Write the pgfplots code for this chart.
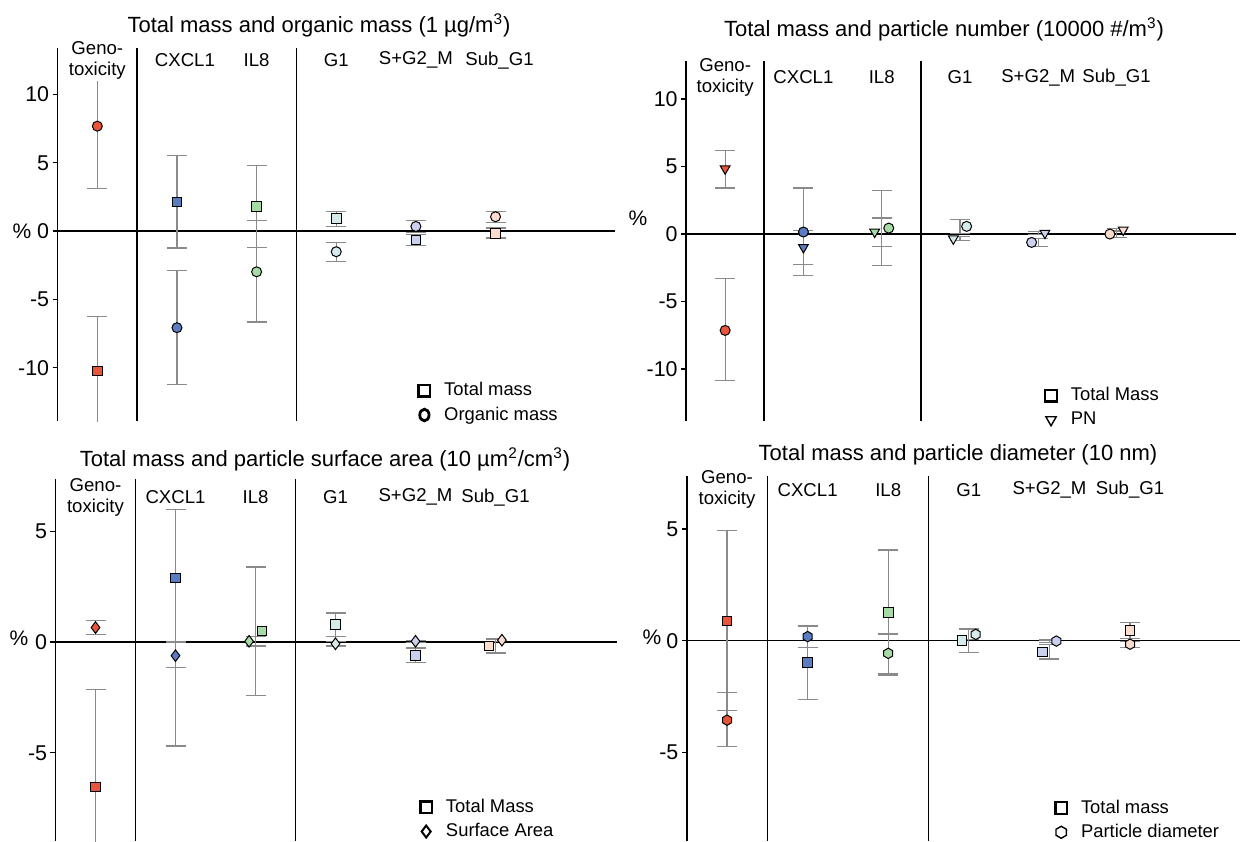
\documentclass[border=0pt]{standalone}
\usepackage{fontspec}
\setmainfont{Liberation Sans}
\usepackage{pgfplots}
\pgfplotsset{compat=1.18}
\usepackage{pgfplotstable}

\definecolor{cA}{HTML}{E8553A}
\definecolor{cB}{HTML}{5B7CC0}
\definecolor{cC}{HTML}{A6DBA6}
\definecolor{cD}{HTML}{D5EBEB}
\definecolor{cE}{HTML}{C9D1EF}
\definecolor{cF}{HTML}{FCDCCE}
\definecolor{errg}{HTML}{8A8A8A}

\pgfdeclareplotmark{hexagon}{%
  \pgfpathmoveto{\pgfqpointpolar{30}{\pgfplotmarksize}}%
  \pgfpathlineto{\pgfqpointpolar{90}{\pgfplotmarksize}}%
  \pgfpathlineto{\pgfqpointpolar{150}{\pgfplotmarksize}}%
  \pgfpathlineto{\pgfqpointpolar{210}{\pgfplotmarksize}}%
  \pgfpathlineto{\pgfqpointpolar{270}{\pgfplotmarksize}}%
  \pgfpathlineto{\pgfqpointpolar{330}{\pgfplotmarksize}}%
  \pgfpathclose
  \pgfusepathqfillstroke}

% ---------- data: x = error-bar position, mx = marker position ----------
\pgfplotstableread{
x mx y ep em c
0 0 -10.24 4.00 4.00 a
1 1 2.12 3.42 3.36 b
2 2 1.78 3.02 3.00 c
3 3 0.93 0.53 0.59 d
4 4 -0.66 0.40 0.39 e
5 5 -0.17 0.39 0.34 f
}\PaT
\pgfplotstableread{
x mx y ep em c
0 0 7.68 4.60 4.58 a
1 1 -7.07 4.19 4.13 b
2 2 -2.98 3.74 3.68 c
3 3 -1.51 0.68 0.71 d
4 4 0.34 0.44 0.44 e
5 5 1.05 0.41 0.42 f
}\PaO

\pgfplotstableread{
x mx y ep em c
0 0 -7.14 3.83 3.70 a
1 1 0.15 3.26 3.21 b
2 2.09 0.44 2.79 2.79 c
3 3.085 0.57 0.49 0.50 d
4 3.915 -0.62 0.30 0.29 e
5 4.915 0.00 0.25 0.25 f
}\PbT
\pgfplotstableread{
x mx y ep em c
0 0 4.84 1.36 1.43 a
1 1 -0.99 1.28 1.28 b
2 1.91 0.15 1.04 1.09 c
3 2.915 -0.35 0.14 0.14 d
4 4.085 0.07 0.10 0.10 e
5 5.085 0.30 0.10 0.10 f
}\PbP

\pgfplotstableread{
x mx y ep em c
0 0 -6.54 4.39 4.40 a
1 1 2.89 3.08 4.05 b
2 2.08 0.50 2.88 2.91 c
3 3 0.78 0.53 0.55 d
4 4 -0.60 0.33 0.33 e
5 4.92 -0.18 0.28 0.32 f
}\PcT
\pgfplotstableread{
x mx y ep em c
0 0 0.65 0.31 0.32 a
1 1 -0.62 0.62 4.07 b
2 1.92 0.03 0.20 0.21 c
3 3 -0.08 0.10 0.10 d
4 4 0.03 0.05 0.05 e
5 5.08 0.08 0.05 0.05 f
}\PcD

\pgfplotstableread{
x mx y ep em c
0 0 0.88 4.05 4.00 a
1 1 -0.99 1.64 1.64 b
2 2 1.25 2.81 2.74 c
3 2.915 0.00 0.55 0.54 d
4 3.915 -0.50 0.32 0.32 e
5 5 0.45 0.35 0.35 f
}\PdT
\pgfplotstableread{
x mx y ep em c
0 0 -3.56 1.25 1.19 a
1 1 0.18 0.49 0.49 b
2 2 -0.57 0.87 0.97 c
3 3.085 0.28 0.22 0.22 d
4 4.085 -0.02 0.05 0.05 e
5 5 -0.16 0.13 0.13 f
}\PdH

\tikzset{catlab/.style={font=\fontsize{9.3}{10.5}\selectfont, align=center, inner sep=1pt}}

\pgfplotsset{
  panel/.style={
    scale only axis, anchor=south west,
    xmin=-0.5,
    axis x line=none, axis y line=left,
    y axis line style={-, line width=0.8pt, black},
    every outer y axis line/.append style={-},
    every inner y axis line/.append style={-},
    ytick style={line width=0.6pt, black},
    tick align=outside, major tick length=2.5pt,
    yticklabel style={font=\fontsize{10.7}{12}\selectfont, inner sep=1.5pt},
    /pgf/number format/assume math mode=true,
    clip mode=individual,
    legend cell align=left,
    legend style={draw=none, fill=none, anchor=north west,
      font=\fontsize{9.2}{10.5}\selectfont, inner sep=0pt, row sep=0pt, column sep=5pt},
  },
  ebar/.style={draw=none, mark=none, forget plot,
    error bars/.cd, y dir=both, y explicit,
    error bar style={draw=errg, line width=0.6pt},
    error mark options={rotate=90, draw=errg, mark size=5pt, line width=0.6pt}},
  mk/.style={scatter, only marks, forget plot, mark=#1, mark size=2.5pt,
    point meta=explicit symbolic,
    mark options={draw=black, line width=0.5pt},
    scatter/classes={
      a={fill=cA, draw=black}, b={fill=cB, draw=black}, c={fill=cC, draw=black},
      d={fill=cD, draw=black}, e={fill=cE, draw=black}, f={fill=cF, draw=black}}},
  legsq/.style={only marks, mark=square, mark size=2.9pt, mark options={black, line width=1.2pt}},
}

\begin{document}
\begin{tikzpicture}
\useasboundingbox (0,0) rectangle (620pt,-420.5pt);

% titles
\node[font=\fontsize{11}{12}\selectfont] at (159.5pt,-12.5pt) {Total mass and organic mass (1 µg/m\textsuperscript{3})};
\node[font=\fontsize{11}{12}\selectfont] at (472pt,-14.5pt) {Total mass and particle number (10000 \#/m\textsuperscript{3})};
\node[font=\fontsize{11}{12}\selectfont] at (162.5pt,-229.5pt) {Total mass and particle surface area (10 µm\textsuperscript{2}/cm\textsuperscript{3})};
\node[font=\fontsize{11}{12}\selectfont] at (479pt,-227.5pt) {Total mass and particle diameter (10 nm)};

% % labels
\node[font=\fontsize{10.5}{12}\selectfont] at (11pt,-115.5pt) {\%};
\node[font=\fontsize{10.5}{12}\selectfont] at (319pt,-109pt) {\%};
\node[font=\fontsize{10.5}{12}\selectfont] at (9.5pt,-319pt) {\%};
\node[font=\fontsize{10.5}{12}\selectfont] at (326pt,-318.5pt) {\%};

% ---------------- Panel 1 ----------------
\begin{axis}[panel, at={(28.75pt,-210.5pt)}, width=278.75pt, height=186.5pt,
  xmax=6.5, ymin=-13.9, ymax=13.4, ytick={-10,-5,0,5,10},
  legend style={at={(0.647,0.115)}}]
\draw[line width=0.8pt] (axis cs:0.5,-13.9) -- (axis cs:0.5,13.4);
\draw[line width=0.8pt] (axis cs:2.5,-13.9) -- (axis cs:2.5,13.4);
\draw[line width=0.8pt] (axis cs:-0.5,0) -- (axis cs:6.5,0);
\addplot[ebar] table[x=x,y=y,y error plus=ep,y error minus=em]{\PaT};
\addplot[ebar] table[x=x,y=y,y error plus=ep,y error minus=em]{\PaO};
\addplot[mk=square*, mark size=2.4pt] table[x=mx,y=y,meta=c]{\PaT};
\addplot[mk=*] table[x=mx,y=y,meta=c]{\PaO};
\node[catlab, fill=white] at (axis cs:0,12.5) {Geno-\\toxicity};
\node[catlab] at (axis cs:1.1,12.5) {CXCL1};
\node[catlab] at (axis cs:2,12.5) {IL8};
\node[catlab] at (axis cs:3,12.5) {G1};
\node[catlab] at (axis cs:4,12.5) {S+G2\_M};
\node[catlab] at (axis cs:5.05,12.5) {Sub\_G1};
\addlegendimage{legsq}
\addlegendentry{Total mass}
\addlegendimage{only marks, mark=o, mark size=2.9pt, mark options={black, line width=1.4pt, xscale=0.8}}
\addlegendentry{Organic mass}
\end{axis}

% ---------------- Panel 2 ----------------
\begin{axis}[panel, at={(343pt,-210.5pt)}, width=274.75pt, height=180pt,
  xmax=6.52, ymin=-13.85, ymax=12.82, ytick={-10,-5,0,5,10},
  legend style={at={(0.653,0.105)}}]
\draw[line width=0.8pt] (axis cs:0.5,-13.85) -- (axis cs:0.5,12.82);
\draw[line width=0.8pt] (axis cs:2.5,-13.85) -- (axis cs:2.5,12.82);
\draw[line width=0.8pt] (axis cs:-0.5,0) -- (axis cs:6.52,0);
\addplot[ebar] table[x=x,y=y,y error plus=ep,y error minus=em]{\PbT};
\addplot[ebar] table[x=x,y=y,y error plus=ep,y error minus=em]{\PbP};
\addplot[mk=*] table[x=mx,y=y,meta=c]{\PbT};
\addplot[mk=triangle*, mark size=2.8pt, mark options={rotate=180, draw=black, line width=0.5pt}] table[x=mx,y=y,meta=c]{\PbP};
\node[catlab] at (axis cs:0,11.6) {Geno-\\toxicity};
\node[catlab] at (axis cs:1,11.6) {CXCL1};
\node[catlab] at (axis cs:2,11.6) {IL8};
\node[catlab] at (axis cs:3,11.6) {G1};
\node[catlab] at (axis cs:4,11.6) {S+G2\_M};
\node[catlab] at (axis cs:5,11.6) {Sub\_G1};
\addlegendimage{legsq}
\addlegendentry{Total Mass}
\addlegendimage{only marks, mark=triangle, mark size=3pt, mark options={black, line width=0.7pt, rotate=180}}
\addlegendentry{PN}
\end{axis}

% ---------------- Panel 3 ----------------
\begin{axis}[panel, at={(27.75pt,-420.5pt)}, width=280.8pt, height=181pt,
  xmax=6.52, ymin=-8.98, ymax=7.35, ytick={-5,0,5},
  legend style={at={(0.649,0.128)}}]
\draw[line width=0.8pt] (axis cs:0.5,-8.98) -- (axis cs:0.5,7.35);
\draw[line width=0.8pt] (axis cs:2.5,-8.98) -- (axis cs:2.5,7.35);
\draw[line width=0.8pt] (axis cs:-0.5,0) -- (axis cs:6.52,0);
\addplot[ebar] table[x=x,y=y,y error plus=ep,y error minus=em]{\PcT};
\addplot[ebar] table[x=x,y=y,y error plus=ep,y error minus=em]{\PcD};
\addplot[mk=square*, mark size=2.4pt] table[x=mx,y=y,meta=c]{\PcT};
\addplot[mk=diamond*, mark size=2.9pt] table[x=mx,y=y,meta=c]{\PcD};
\node[catlab] at (axis cs:0,6.53) {Geno-\\toxicity};
\node[catlab] at (axis cs:1,6.53) {CXCL1};
\node[catlab] at (axis cs:2,6.53) {IL8};
\node[catlab] at (axis cs:3,6.53) {G1};
\node[catlab] at (axis cs:4,6.53) {S+G2\_M};
\node[catlab] at (axis cs:5,6.53) {Sub\_G1};
\addlegendimage{legsq}
\addlegendentry{Total Mass}
\addlegendimage{only marks, mark=diamond, mark size=3pt, mark options={black, line width=1pt}}
\addlegendentry{Surface Area}
\end{axis}

% ---------------- Panel 4 ----------------
\begin{axis}[panel, at={(343.35pt,-420.5pt)}, width=276.5pt, height=182.5pt,
  xmax=6.36, ymin=-8.97, ymax=7.37, ytick={-5,0,5},
  legend style={at={(0.666,0.125)}}]
\draw[line width=0.8pt] (axis cs:0.5,-8.97) -- (axis cs:0.5,7.37);
\draw[line width=0.8pt] (axis cs:2.5,-8.97) -- (axis cs:2.5,7.37);
\draw[line width=0.8pt] (axis cs:-0.5,0) -- (axis cs:6.36,0);
\addplot[ebar] table[x=x,y=y,y error plus=ep,y error minus=em]{\PdT};
\addplot[ebar] table[x=x,y=y,y error plus=ep,y error minus=em]{\PdH};
\addplot[mk=square*, mark size=2.4pt] table[x=mx,y=y,meta=c]{\PdT};
\addplot[mk=hexagon, mark size=2.6pt] table[x=mx,y=y,meta=c]{\PdH};
\node[catlab] at (axis cs:0,6.75) {Geno-\\toxicity};
\node[catlab] at (axis cs:1,6.75) {CXCL1};
\node[catlab] at (axis cs:2,6.75) {IL8};
\node[catlab] at (axis cs:3,6.75) {G1};
\node[catlab] at (axis cs:4,6.75) {S+G2\_M};
\node[catlab] at (axis cs:5,6.75) {Sub\_G1};
\addlegendimage{legsq}
\addlegendentry{Total mass}
\addlegendimage{only marks, mark=hexagon, mark size=3pt, mark options={black, fill=white, line width=0.7pt}}
\addlegendentry{Particle diameter}
\end{axis}
\end{tikzpicture}
\end{document}
